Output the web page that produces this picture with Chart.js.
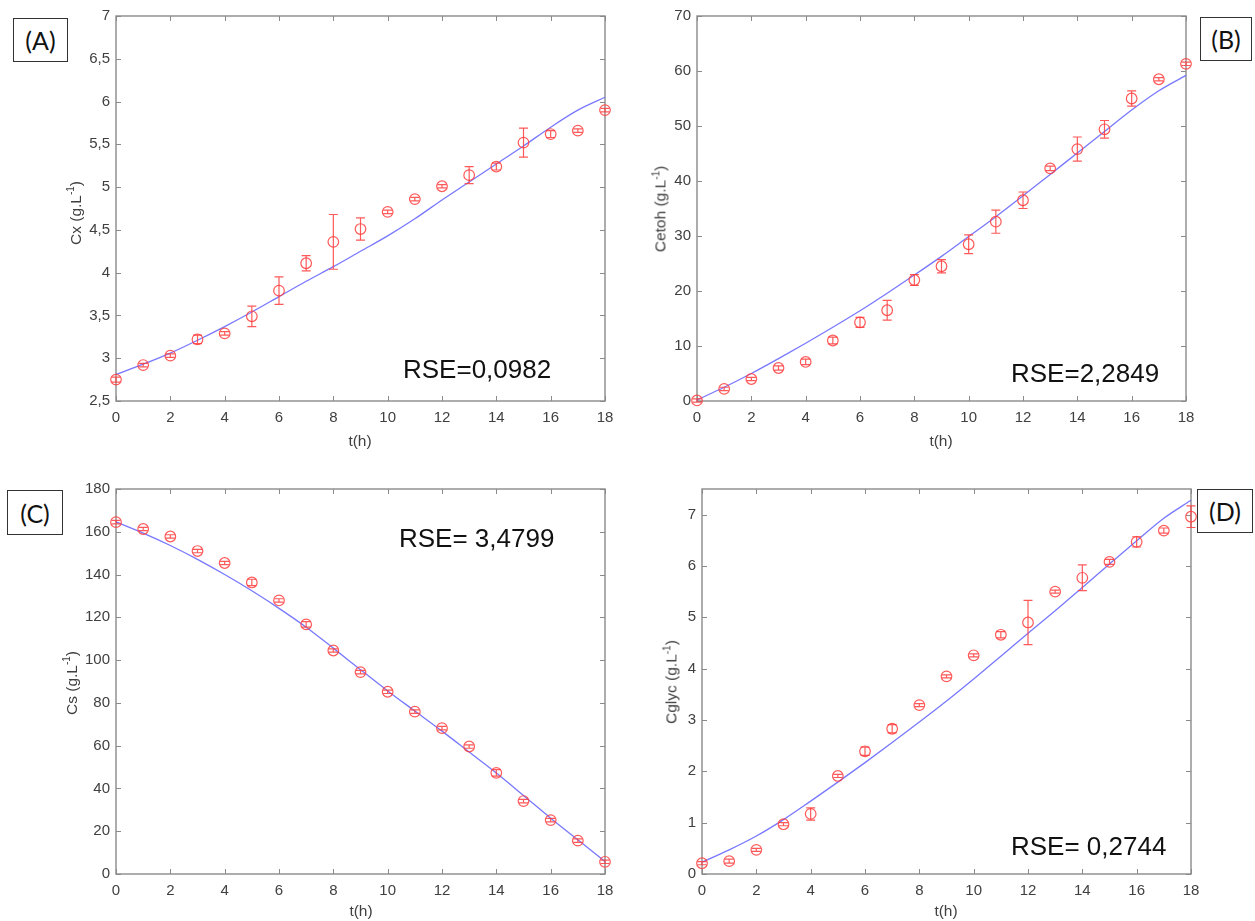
<!DOCTYPE html>
<html>
<head>
<meta charset="utf-8">
<script src="https://cdn.jsdelivr.net/npm/chart.js@4.4.1/dist/chart.umd.min.js"></script>
<style>
  html, body { margin: 0; padding: 0; background: #fff; }
  body { width: 1255px; height: 921px; position: relative; overflow: hidden; font-family: "Liberation Sans", Arial, sans-serif; }
  canvas.panel { position: absolute; left: 0; top: 0; pointer-events: none; }
  .tag { position: absolute; border: 1.5px solid #333; background: #fff; font-family: Lato, "Liberation Sans", sans-serif; font-size: 25px; color: #111; display: flex; align-items: center; justify-content: center; box-sizing: border-box; z-index: 2; }
  .rse { position: absolute; font-size: 26px; color: #111; white-space: nowrap; line-height: 1; z-index: 2; }
  .ytitle { position: absolute; font-size: 15.5px; color: #404040; transform: translate(-50%, -50%) rotate(-90deg); white-space: nowrap; z-index: 2; }
  .xtitle { position: absolute; font-size: 15.5px; color: #404040; transform: translate(-50%, -50%); white-space: nowrap; z-index: 2; }
  sup { font-size: 10px; }
</style>
</head>
<body>
<canvas class="panel" id="chartA" width="1255" height="921"></canvas>
<canvas class="panel" id="chartB" width="1255" height="921"></canvas>
<canvas class="panel" id="chartC" width="1255" height="921"></canvas>
<canvas class="panel" id="chartD" width="1255" height="921"></canvas>

<div class="tag" style="left:13px;top:18px;width:55px;height:44px;">(A)</div>
<div class="tag" style="left:1200px;top:17px;width:52px;height:44px;">(B)</div>
<div class="tag" style="left:7px;top:490px;width:56px;height:45px;">(C)</div>
<div class="tag" style="left:1197px;top:489px;width:56px;height:44px;">(D)</div>

<div class="rse" style="left:403px;top:356px;">RSE=0,0982</div>
<div class="rse" style="left:1011px;top:360px;">RSE=2,2849</div>
<div class="rse" style="left:399px;top:525px;">RSE= 3,4799</div>
<div class="rse" style="left:1011px;top:833px;">RSE= 0,2744</div>

<div class="ytitle" style="left:75px;top:213px;">Cx (g.L<sup>-1</sup>)</div>
<div class="ytitle" style="left:660px;top:209px;">Cetoh (g.L<sup>-1</sup>)</div>
<div class="ytitle" style="left:71px;top:683px;">Cs (g.L<sup>-1</sup>)</div>
<div class="ytitle" style="left:671px;top:682px;">Cglyc (g.L<sup>-1</sup>)</div>

<div class="xtitle" style="left:360px;top:441px;">t(h)</div>
<div class="xtitle" style="left:941px;top:441px;">t(h)</div>
<div class="xtitle" style="left:361px;top:911px;">t(h)</div>
<div class="xtitle" style="left:946px;top:911px;">t(h)</div>

<script>
// sampling times (h)
const time = [0, 1, 2, 3, 4, 5, 6, 7, 8, 9, 10, 11, 12, 13, 14, 15, 16, 17, 18];
const xTicks = [0, 2, 4, 6, 8, 10, 12, 14, 16, 18];

// (A) biomass
const cxMeas  = [2.75, 2.92, 3.03, 3.22, 3.29, 3.49, 3.79, 4.11, 4.36, 4.51, 4.71, 4.86, 5.01, 5.14, 5.24, 5.52, 5.62, 5.66, 5.90];
const cxErr   = [0.03, 0.02, 0.02, 0.05, 0.02, 0.12, 0.16, 0.09, 0.32, 0.13, 0.02, 0.02, 0.02, 0.10, 0.04, 0.17, 0.04, 0.02, 0.02];
const cxModel = [2.81, 2.93, 3.06, 3.21, 3.37, 3.54, 3.72, 3.90, 4.07, 4.25, 4.43, 4.63, 4.85, 5.06, 5.27, 5.48, 5.70, 5.90, 6.05];
const cxTicks = [2.5, 3, 3.5, 4, 4.5, 5, 5.5, 6, 6.5, 7];

// (B) ethanol
const etohMeas  = [0.1, 2.2, 4.0, 6.0, 7.1, 11.0, 14.3, 16.5, 22.0, 24.5, 28.5, 32.6, 36.5, 42.3, 45.8, 49.4, 55.0, 58.5, 61.3];
const etohErr   = [0.3, 0.3, 0.3, 0.4, 0.5, 0.6, 0.9, 1.8, 1.0, 1.2, 1.7, 2.1, 1.5, 0.4, 2.2, 1.6, 1.4, 0.3, 0.3];
const etohModel = [0.2, 2.5, 5.0, 7.7, 10.5, 13.4, 16.4, 19.6, 22.9, 26.3, 29.9, 33.5, 37.3, 41.2, 45.1, 49.0, 52.9, 56.4, 59.2];
const etohTicks = [0, 10, 20, 30, 40, 50, 60, 70];

// (C) substrate
const csMeas  = [164.5, 161.3, 157.8, 151.0, 145.4, 136.3, 127.9, 116.7, 104.5, 94.4, 85.2, 75.9, 68.2, 59.6, 47.3, 34.1, 25.2, 15.6, 5.7];
const csErr   = [0.8, 0.8, 0.8, 0.8, 0.8, 1.5, 0.8, 1.3, 0.8, 0.8, 0.8, 0.8, 0.8, 0.8, 1.5, 0.8, 0.8, 0.8, 0.8];
const csModel = [164.6, 159.4, 153.6, 147.1, 140.0, 132.4, 124.2, 115.4, 105.6, 95.5, 85.6, 76.2, 66.8, 57.0, 47.2, 36.7, 26.1, 16.0, 5.8];
const csTicks = [0, 20, 40, 60, 80, 100, 120, 140, 160, 180];

// (D) glycerol
const glycMeas  = [0.21, 0.25, 0.47, 0.97, 1.17, 1.91, 2.39, 2.83, 3.29, 3.85, 4.26, 4.66, 4.90, 5.50, 5.77, 6.08, 6.47, 6.69, 6.96];
const glycErr   = [0.03, 0.04, 0.03, 0.03, 0.12, 0.03, 0.08, 0.08, 0.03, 0.03, 0.03, 0.06, 0.43, 0.03, 0.25, 0.05, 0.10, 0.05, 0.21];
const glycModel = [0.23, 0.47, 0.74, 1.06, 1.42, 1.79, 2.17, 2.56, 2.96, 3.37, 3.80, 4.24, 4.69, 5.13, 5.58, 6.04, 6.49, 6.93, 7.28];
const glycTicks = [0, 1, 2, 3, 4, 5, 6, 7];

const W = 1255, H = 921;
const Y_AXIS_W = 60, X_AXIS_H = 30;

// box with inward ticks, matlab style
const framePlugin = {
    id: 'frame',
    beforeDatasetsDraw(chart) {
        const { ctx, chartArea: a, scales: { x, y } } = chart;
        ctx.save();
        ctx.strokeStyle = '#8a8a8a';
        ctx.lineWidth = 1.4;
        ctx.strokeRect(a.left, a.top, a.right - a.left, a.bottom - a.top);
        ctx.lineWidth = 1;
        ctx.beginPath();
        x.ticks.forEach(t => {
            const px = Math.round(x.getPixelForValue(t.value)) + 0.5;
            ctx.moveTo(px, a.bottom); ctx.lineTo(px, a.bottom - 5);
            ctx.moveTo(px, a.top); ctx.lineTo(px, a.top + 5);
        });
        y.ticks.forEach(t => {
            const py = Math.round(y.getPixelForValue(t.value)) + 0.5;
            ctx.moveTo(a.left, py); ctx.lineTo(a.left + 5, py);
            ctx.moveTo(a.right, py); ctx.lineTo(a.right - 5, py);
        });
        ctx.stroke();
        ctx.restore();
    }
};

const errorBarPlugin = {
    id: 'errorBars',
    afterDatasetsDraw(chart) {
        const { ctx, scales: { x, y } } = chart;
        chart.data.datasets.forEach(ds => {
            if (!ds.errors) return;
            ctx.save();
            ctx.strokeStyle = 'rgba(255, 60, 60, 0.85)';
            ctx.lineWidth = 1.2;
            ctx.beginPath();
            ds.data.forEach((p, i) => {
                const e = ds.errors[i];
                const px = x.getPixelForValue(p.x);
                const top = y.getPixelForValue(p.y + e);
                const bot = y.getPixelForValue(p.y - e);
                ctx.moveTo(px, top); ctx.lineTo(px, bot);
                ctx.moveTo(px - 4.5, top); ctx.lineTo(px + 4.5, top);
                ctx.moveTo(px - 4.5, bot); ctx.lineTo(px + 4.5, bot);
            });
            ctx.stroke();
            ctx.restore();
        });
    }
};

function makePanel(id, area, meas, err, model, yTicks, yMin, yMax) {
    const pts = time.map((t, i) => ({ x: t, y: meas[i] }));
    const fit = time.map((t, i) => ({ x: t, y: model[i] }));
    const tickFont = { family: '"Liberation Sans", Arial, sans-serif', size: 15 };

    new Chart(document.getElementById(id), {
        type: 'line',
        data: {
            datasets: [
                {
                    data: pts,
                    errors: err,
                    showLine: false,
                    pointStyle: 'circle',
                    pointRadius: 5.3,
                    pointBorderWidth: 1.2,
                    pointBorderColor: 'rgba(255, 60, 60, 0.85)',
                    pointBackgroundColor: 'rgba(0,0,0,0)',
                    clip: false,
                    order: 1
                },
                {
                    data: fit,
                    borderColor: 'rgba(105, 105, 255, 0.9)',
                    borderWidth: 1.3,
                    pointRadius: 0,
                    cubicInterpolationMode: 'monotone',
                    fill: false,
                    clip: false,
                    order: 2
                }
            ]
        },
        options: {
            responsive: false,
            animation: false,
            devicePixelRatio: 1,
            layout: {
                padding: {
                    left: area.left - Y_AXIS_W,
                    right: W - area.right,
                    top: area.top,
                    bottom: H - area.bottom - X_AXIS_H
                }
            },
            plugins: {
                legend: { display: false },
                tooltip: { enabled: false }
            },
            scales: {
                x: {
                    type: 'linear',
                    min: 0,
                    max: 18,
                    grid: { display: false, drawTicks: false },
                    border: { display: false },
                    afterBuildTicks: scale => { scale.ticks = xTicks.map(v => ({ value: v })); },
                    afterFit: scale => { scale.height = X_AXIS_H; },
                    ticks: {
                        padding: 8,
                        maxRotation: 0,
                        autoSkip: false,
                        color: '#404040',
                        font: tickFont
                    }
                },
                y: {
                    type: 'linear',
                    min: yMin,
                    max: yMax,
                    grid: { display: false, drawTicks: false },
                    border: { display: false },
                    afterBuildTicks: scale => { scale.ticks = yTicks.map(v => ({ value: v })); },
                    afterFit: scale => { scale.width = Y_AXIS_W; },
                    ticks: {
                        padding: 6,
                        autoSkip: false,
                        color: '#404040',
                        font: tickFont,
                        callback: v => String(v).replace('.', ',')
                    }
                }
            }
        },
        plugins: [framePlugin, errorBarPlugin]
    });
}

makePanel('chartA', { left: 116, right: 605, top: 16, bottom: 401 }, cxMeas, cxErr, cxModel, cxTicks, 2.5, 7);
makePanel('chartB', { left: 697, right: 1186, top: 16, bottom: 401 }, etohMeas, etohErr, etohModel, etohTicks, 0, 70);
makePanel('chartC', { left: 116, right: 605, top: 489, bottom: 874 }, csMeas, csErr, csModel, csTicks, 0, 180);
makePanel('chartD', { left: 702, right: 1191, top: 489, bottom: 874 }, glycMeas, glycErr, glycModel, glycTicks, 0, 7.5);
</script>
</body>
</html>
